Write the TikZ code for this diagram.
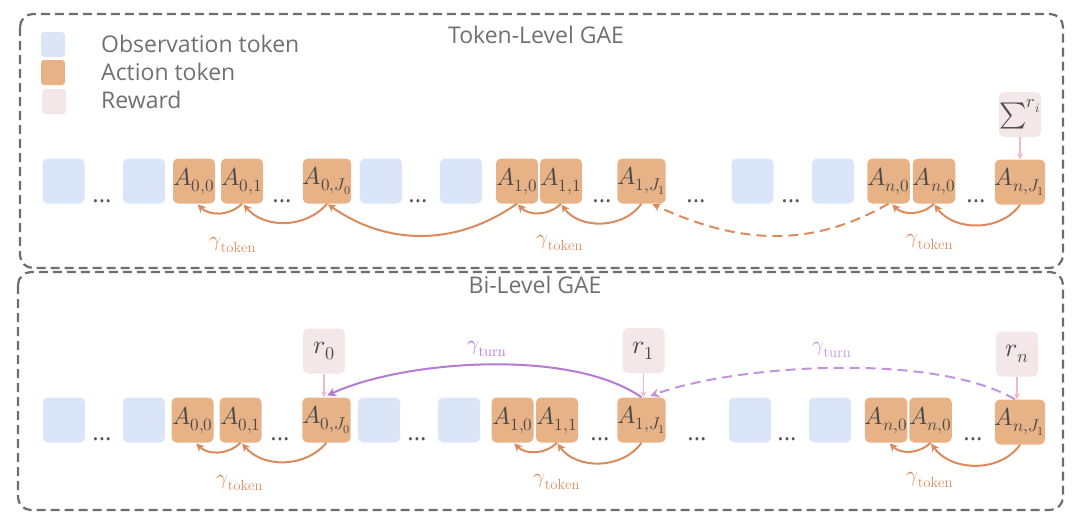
\documentclass[tikz,border=0pt]{standalone}
\usepackage{fontspec}
\usepackage{unicode-math}
\setmathfont{Latin Modern Math}
\newfontfamily\legfont{Open Sans}
\usetikzlibrary{arrows.meta}
\definecolor{obsc}{HTML}{DAE6F8}
\definecolor{actc}{HTML}{E8B287}
\definecolor{rewc}{HTML}{F3E7EA}
\definecolor{tokc}{HTML}{4A4A4A}
\definecolor{dotc}{HTML}{555555}
\definecolor{orc}{HTML}{DB8B5B}
\definecolor{purc}{HTML}{B57AD3}
\definecolor{purd}{HTML}{C493DD}
\definecolor{pinkc}{HTML}{F4B8C8}
\definecolor{bordc}{HTML}{6E6E6E}
\definecolor{legc}{HTML}{707070}
\begin{document}
\begin{tikzpicture}[x=1pt,y=1pt,
  tokbase/.style={rounded corners=5pt, minimum width=42pt, minimum height=45pt, inner sep=0pt},
  obs/.style={tokbase, fill=obsc},
  act/.style={tokbase, fill=actc, text=tokc, font=\fontsize{24.5}{24.5}\selectfont},
  rew/.style={tokbase, fill=rewc, text=tokc, font=\fontsize{26}{26}\selectfont},
  legbox/.style={minimum width=24pt, minimum height=25pt, rounded corners=3pt},
  dts/.style={text=dotc, font=\legfont\fontsize{24}{24}\selectfont, inner sep=0pt, anchor=base},
  legtext/.style={text=legc, font=\legfont\fontsize{23}{23}\selectfont, inner sep=0pt},
  glab/.style={font=\fontsize{21}{21}\selectfont, inner sep=0pt},
  border/.style={draw=bordc, line width=2.2pt, dash pattern=on 9pt off 5pt, rounded corners=13pt},
  oarr/.style={draw=orc, line width=2pt, -{Stealth[length=8pt,width=8pt]}, shorten >=1pt},
  parrow/.style={draw=purc, line width=2pt, -{Stealth[length=9pt,width=9pt]}, shorten >=4pt},
  pinkarr/.style={draw=pinkc, line width=1.5pt, -{Stealth[length=6pt,width=6pt]}}
]
\useasboundingbox (0,0) rectangle (1080,-520);
% frames
\draw[border] (20,-14) rectangle (1063,-268);
\draw[border] (18,-272) rectangle (1063,-510);
% titles
\node[legtext] (title1) at (536,-35) {Token-Level GAE};
\node[legtext] (title2) at (535,-285) {Bi-Level GAE};
% legend
\node[legbox, fill=obsc] (lg1) at (53,-44.5) {};
\node[legbox, fill=actc] (lg2) at (53,-72.5) {};
\node[legbox, fill=rewc] (lg3) at (54,-101.5) {};
\node[legtext, anchor=west] (lt1) at (101,-44) {Observation token};
\node[legtext, anchor=west] (lt2) at (101,-72) {Action token};
\node[legtext, anchor=west] (lt3) at (101,-100) {Reward};

% ---------- top row ----------
\node[obs] (to1) at (63.5,-181) {};
\node[obs] (to2) at (144,-181) {};
\node[act] (ta00) at (194,-181) {$A_{0,0}$};
\node[act] (ta01) at (242,-181) {$A_{0,1}$};
\node[act, minimum width=48pt] (ta0J) at (327,-181) {$A_{0,J_0}$};
\node[obs] (to3) at (381,-181) {};
\node[obs] (to4) at (461,-181) {};
\node[act] (ta10) at (517,-181) {$A_{1,0}$};
\node[act] (ta11) at (561,-181) {$A_{1,1}$};
\node[act, minimum width=47pt] (ta1J) at (641.5,-181) {$A_{1,J_1}$};
\node[obs] (to5) at (752.5,-181) {};
\node[obs] (to6) at (833,-181) {};
\node[act] (tan0) at (888.5,-181) {$A_{n,0}$};
\node[act] (tan1) at (934,-181) {$A_{n,0}$};
\node[act, minimum width=48pt] (tanJ) at (1020,-182) {$A_{n,J_1}$};
\node[dts] (td1) at (102,-202) {...};
\node[dts] (td2) at (282,-202) {...};
\node[dts] (td3) at (418,-202) {...};
\node[dts] (td4) at (602,-202) {...};
\node[dts] (td5) at (696,-202) {...};
\node[dts] (td6) at (791,-202) {...};
\node[dts] (td7) at (976,-202) {...};
\node[rew] (tsum) at (1020,-114.5) {${\sum}^{r_i}$};
\draw[pinkarr] (tsum.south) -- (tanJ.north);

\draw[oarr] (ta01.south) to[out=-135,in=-45] ([xshift=3pt]ta00.south);
\draw[oarr] (ta0J.south) to[out=-130,in=-50] ([xshift=1pt]ta01.south);
\draw[oarr] (ta10.south) to[out=-145,in=-35] (ta0J.south);
\draw[oarr] (ta11.south) to[out=-135,in=-45] (ta10.south);
\draw[oarr] (ta1J.south) to[out=-125,in=-55] (ta11.south);
\draw[oarr, dash pattern=on 10pt off 6pt] (tan0.south) to[out=-150,in=-25] ([xshift=10pt]ta1J.south);
\draw[oarr] (tan1.south) to[out=-135,in=-45] ([xshift=3pt]tan0.south);
\draw[oarr] (tanJ.south) to[out=-125,in=-55] (tan1.south);

\node[glab, text=orc] (tg1) at (233,-245) {$\gamma_{\mathrm{token}}$};
\node[glab, text=orc] (tg2) at (560,-243) {$\gamma_{\mathrm{token}}$};
\node[glab, text=orc] (tg3) at (930,-242) {$\gamma_{\mathrm{token}}$};

% ---------- bottom row ----------
\node[obs] (bo1) at (64,-420) {};
\node[obs] (bo2) at (144,-420) {};
\node[act] (ba00) at (192.5,-420) {$A_{0,0}$};
\node[act] (ba01) at (240.5,-420) {$A_{0,1}$};
\node[act, minimum width=47pt] (ba0J) at (326.5,-420) {$A_{0,J_0}$};
\node[obs] (bo3) at (379,-420) {};
\node[obs] (bo4) at (459,-420) {};
\node[act] (ba10) at (512.5,-420) {$A_{1,0}$};
\node[act] (ba11) at (557,-420) {$A_{1,1}$};
\node[act, minimum width=47pt] (ba1J) at (641.5,-420) {$A_{1,J_1}$};
\node[obs] (bo5) at (750,-420) {};
\node[obs] (bo6) at (830,-420) {};
\node[act] (ban0) at (886,-420) {$A_{n,0}$};
\node[act] (ban1) at (930.5,-420) {$A_{n,0}$};
\node[act, minimum width=48pt] (banJ) at (1020,-422) {$A_{n,J_1}$};
\node[dts] (bd1) at (102,-440) {...};
\node[dts] (bd2) at (280,-440) {...};
\node[dts] (bd3) at (417,-440) {...};
\node[dts] (bd4) at (600,-440) {...};
\node[dts] (bd5) at (697,-440) {...};
\node[dts] (bd6) at (787,-440) {...};
\node[dts] (bd7) at (973,-440) {...};

\node[rew] (r0) at (324,-351) {$r_0$};
\node[rew] (r1) at (643.5,-350.5) {$r_1$};
\node[rew] (rn) at (1017,-354) {$r_n$};
\draw[pinkarr] (r0.south) -- (r0.south |- ba0J.north);
\draw[pinkarr] (r1.south) -- (r1.south |- ba1J.north);
\draw[pinkarr] (rn.south) -- (rn.south |- banJ.north);

\draw[parrow] (ba1J.north) to[out=145,in=25,looseness=0.7] ([xshift=-3pt]ba0J.north);
\draw[parrow, draw=purd, dash pattern=on 10pt off 6pt] ([xshift=-5pt]banJ.north) to[out=150,in=20,looseness=0.66] ([xshift=5pt]ba1J.north);
\node[glab, text=purc] (pg1) at (487,-349) {$\gamma_{\mathrm{turn}}$};
\node[glab, text=purd] (pg2) at (832,-350) {$\gamma_{\mathrm{turn}}$};

\draw[oarr] (ba01.south) to[out=-135,in=-45] ([xshift=3pt]ba00.south);
\draw[oarr] (ba0J.south) to[out=-130,in=-50] ([xshift=1pt]ba01.south);
\draw[oarr] (ba11.south) to[out=-135,in=-45] ([xshift=1pt]ba10.south);
\draw[oarr] (ba1J.south) to[out=-125,in=-55] (ba11.south);
\draw[oarr] (ban1.south) to[out=-135,in=-45] ([xshift=3pt]ban0.south);
\draw[oarr] (banJ.south) to[out=-125,in=-55] (ban1.south);

\node[glab, text=orc] (bg1) at (240,-483) {$\gamma_{\mathrm{token}}$};
\node[glab, text=orc] (bg2) at (557,-482) {$\gamma_{\mathrm{token}}$};
\node[glab, text=orc] (bg3) at (930,-480) {$\gamma_{\mathrm{token}}$};
\end{tikzpicture}
\end{document}
